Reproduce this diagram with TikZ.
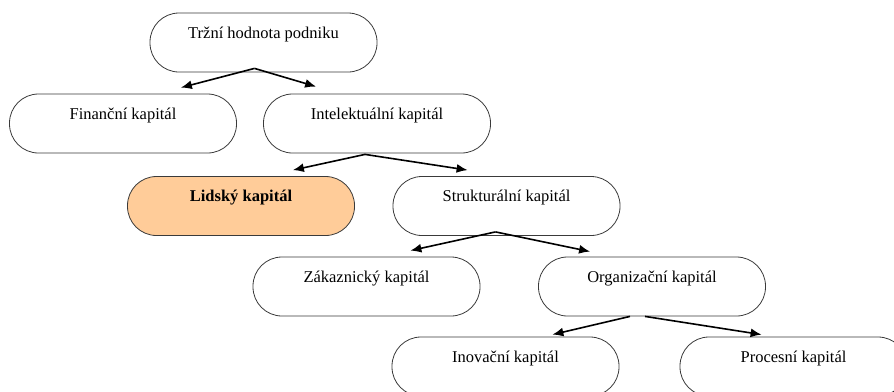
\documentclass[tikz,border=0pt]{standalone}
\usepackage{fontspec}
\setmainfont{Liberation Serif}
\usepackage{tikz}
\usetikzlibrary{arrows.meta,calc}
\definecolor{peach}{HTML}{FFCC99}
\definecolor{rim}{HTML}{3A3A3A}

\begin{document}
\begin{tikzpicture}[x=1pt,y=-1pt,
  kap/.style={draw=rim,line width=0.8pt,rounded corners=29pt,
    minimum width=227pt,minimum height=59pt,inner sep=0pt,
    font=\fontsize{16.5}{18}\selectfont,text height=12pt,text depth=21pt},
  arr/.style={-{Latex[length=11pt,width=9pt]},line width=1.6pt}]

\useasboundingbox (0,0) rectangle (894,391);
\clip (0,0) rectangle (894,391);

% levels of the tree
\node[kap] (trh) at (263.5,42.5) {Tržní hodnota podniku};
\node[kap] (fin) at (123,123.5) {Finanční kapitál};
\node[kap] (intel) at (377,123.5) {Intelektuální kapitál};
\node[kap,fill=peach,font=\fontsize{16.5}{18}\selectfont\bfseries] (lid) at (241,206) {Lidský kapitál};
\node[kap] (strukt) at (506.5,206) {Strukturální kapitál};
\node[kap] (zak) at (366.5,286.5) {Zákaznický kapitál};
\node[kap] (org) at (652,286.5) {Organizační kapitál};
\node[kap] (inov) at (505.5,366.5) {Inovační kapitál};
\node[kap] (proc) at (793.5,366.5) {Procesní kapitál};

% arrows
\draw[arr] ($(trh.south)+(-9,-4)$) -- ($(fin.north east)+(-56,-6)$);
\draw[arr] ($(trh.south)+(-9,-4)$) -- ($(intel.north west)+(53,-7)$);
\draw[arr] ($(intel.south)+(-12,1)$) -- ($(lid.north east)+(-62,-6)$);
\draw[arr] ($(intel.south)+(-12,1)$) -- ($(strukt.north west)+(75,-6)$);
\draw[arr] ($(strukt.south)+(-11,-4)$) -- ($(zak.north east)+(-70,-6)$);
\draw[arr] ($(strukt.south)+(-11,-4)$) -- ($(org.north west)+(52,-5)$);
\draw[arr] ($(org.south)+(-22,0)$) -- ($(inov.north east)+(-67,-2)$);
\draw[arr] ($(org.south)+(-7,0)$) -- ($(proc.north west)+(82,-2)$);

\end{tikzpicture}
\end{document}
